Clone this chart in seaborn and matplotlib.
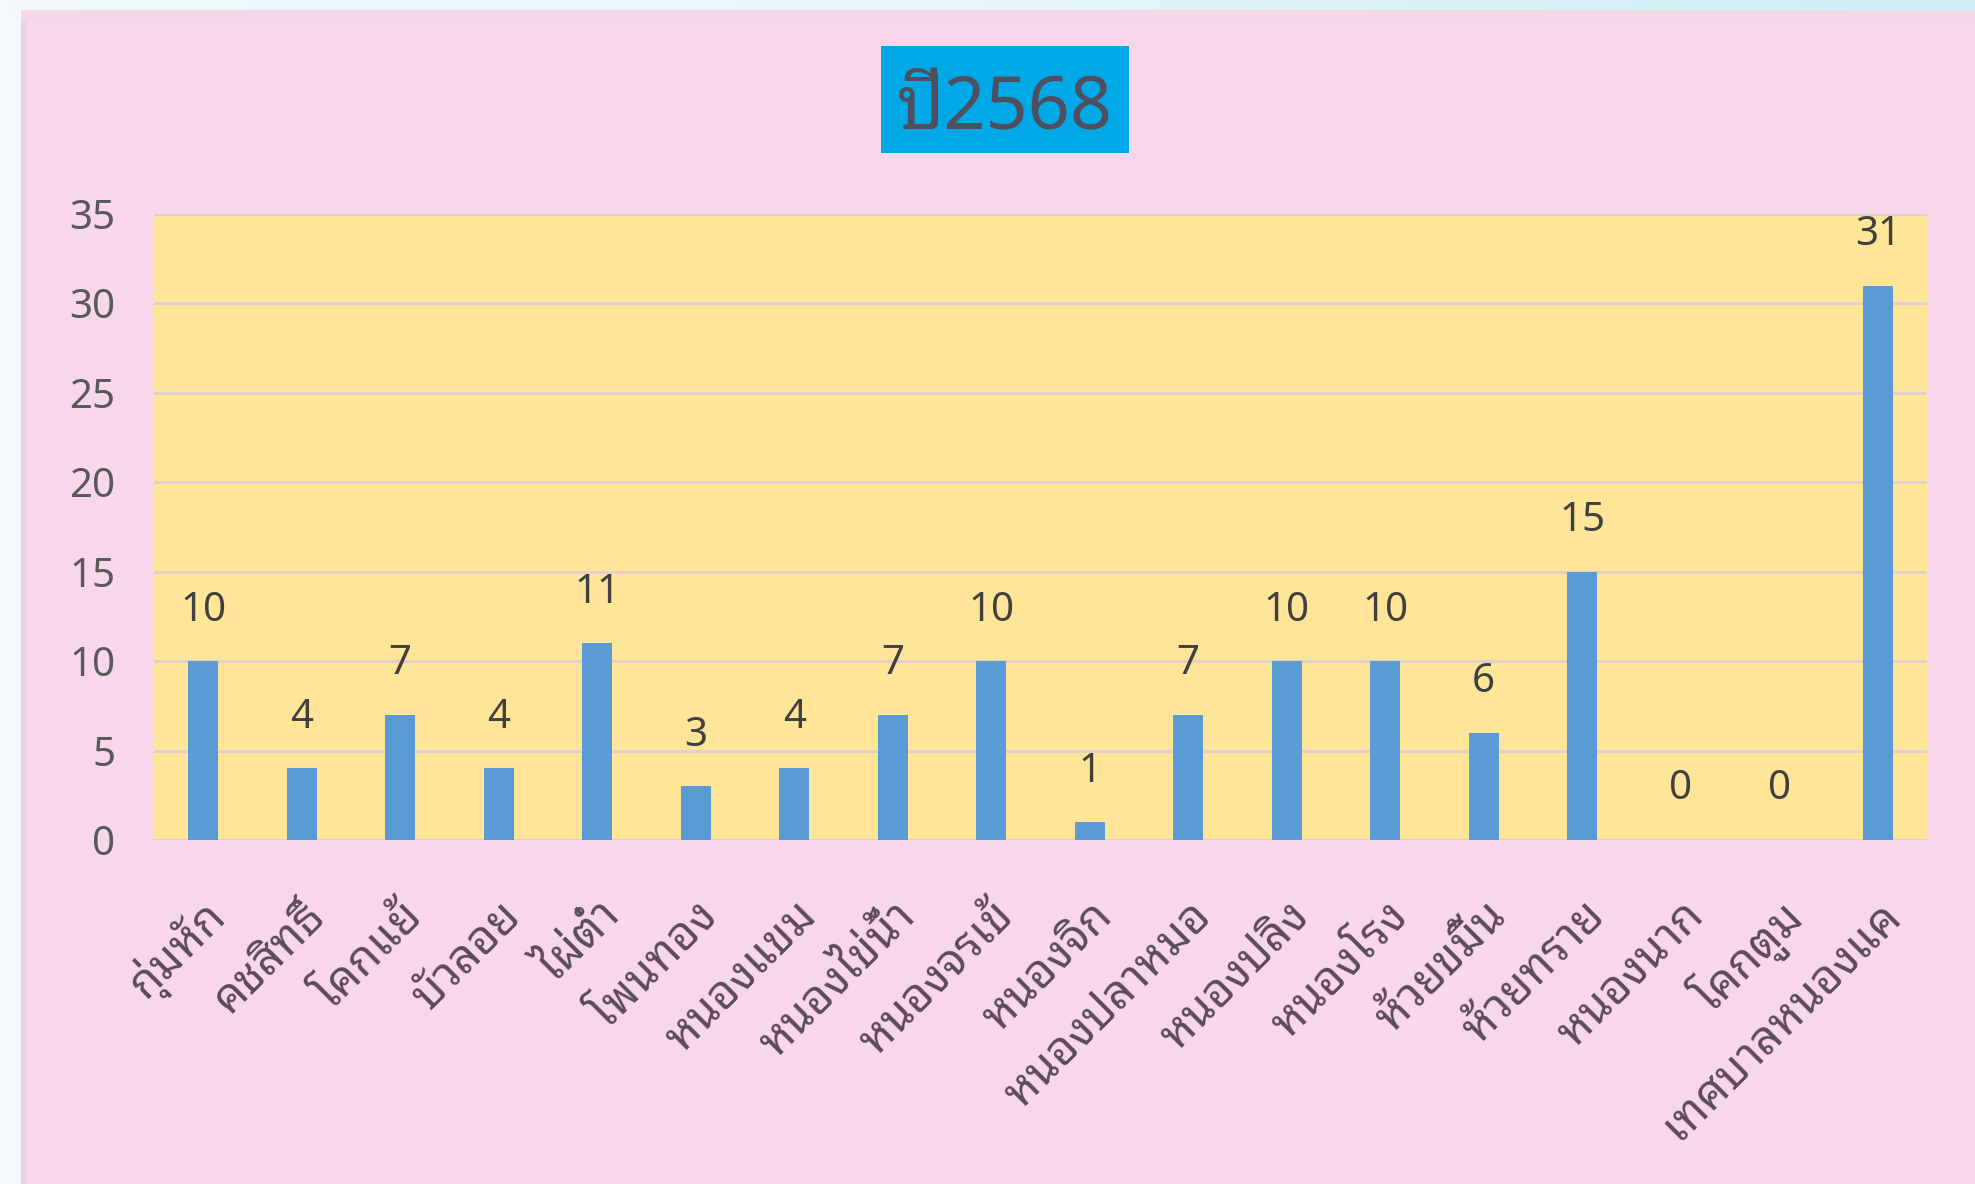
import numpy as np
import pandas as pd
import matplotlib
matplotlib.use("Agg")
import matplotlib.pyplot as plt
import seaborn as sns
from matplotlib.patches import Rectangle
from matplotlib.colors import LinearSegmentedColormap
from matplotlib.transforms import ScaledTranslation

# ---- data ----
categories = ["กุ่มหัก", "คชสิทธิ์", "โคกแย้", "บัวลอย", "ไผ่ต่ำ", "โพนทอง",
              "หนองแขม", "หนองไข่น้ำ", "หนองจรเข้", "หนองจิก", "หนองปลาหมอ",
              "หนองปลิง", "หนองโรง", "ห้วยขมิ้น", "ห้วยทราย", "หนองนาก",
              "โคกตูม", "เทศบาลหนองแค"]
values = [10, 4, 7, 4, 11, 3, 4, 7, 10, 1, 7, 10, 10, 6, 15, 0, 0, 31]
y_ticks = [0, 5, 10, 15, 20, 25, 30, 35]
title = "ปี2568"

W, H = 1975, 1184

sns.set_theme(style="white")
plt.rcParams['font.family'] = ['Noto Sans Thai Looped', 'DejaVu Sans']

fig = plt.figure(figsize=(W / 100, H / 100), dpi=100)
fig.patch.set_facecolor('#F3F9FD')

# top gradient strip
gax = fig.add_axes([0, 1 - 11 / H, 1, 11 / H])
grad = np.linspace(0, 1, 256)[None, :]
cmap = LinearSegmentedColormap.from_list('g', ['#F3F9FD', '#E6F5FB', '#CFEEF8'])
gax.imshow(grad, aspect='auto', cmap=cmap, extent=[0, 1, 0, 1])
gax.set_axis_off()

# pink panel
fig.add_artist(Rectangle((21 / W, 0), 1, 1 - 10 / H, transform=fig.transFigure,
                         facecolor='#F8D6EC', edgecolor='none', zorder=0))
fig.add_artist(Rectangle((21 / W, 0), 6 / W, 1 - 10 / H, transform=fig.transFigure,
                         facecolor='#E9D2E2', edgecolor='none', zorder=0.5))
fig.add_artist(Rectangle((21 / W, 1 - 22 / H), 1, 12 / H, transform=fig.transFigure,
                         facecolor='#F3D8E6', edgecolor='none', zorder=0.5))

# title box
fig.add_artist(Rectangle((881 / W, 1 - 153 / H), (1129 - 881) / W, (153 - 46) / H,
                         transform=fig.transFigure, facecolor='#00A8E6',
                         edgecolor='none', zorder=2))
fig.text(1005 / W, 1 - 110 / H, title, ha='center', va='center', fontsize=53,
         color='#4F4F5F', zorder=3)

# chart
ax = fig.add_axes([154 / W, 1 - 840 / H, (1927 - 154) / W, (840 - 214) / H])
df = pd.DataFrame({'area': categories, 'n': values})
sns.barplot(data=df, x='area', y='n', color='#5B9BD5', width=0.3,
            saturation=1, ax=ax, zorder=3, linewidth=0)
ax.set_facecolor('#FFE597')
ax.set_ylim(0, 35)
ax.set_yticks(y_ticks)
ax.set_xlim(-0.5, len(categories) - 0.5)
ax.yaxis.grid(True, color='#E2D0CA', linewidth=2.2)
ax.xaxis.grid(False)
ax.set_axisbelow(True)
for s in ax.spines.values():
    s.set_visible(False)
ax.set_xlabel('')
ax.set_ylabel('')
ax.tick_params(axis='y', length=0, pad=28, labelsize=29, labelcolor='#595959')
ax.tick_params(axis='x', length=0, pad=50, labelsize=33, labelcolor='#5A4A5A')
shift = ScaledTranslation(16 / 100, 0, fig.dpi_scale_trans)
for lab in ax.get_xticklabels():
    lab.set_rotation(45)
    lab.set_ha('right')
    lab.set_va('center')
    lab.set_rotation_mode('anchor')
    lab.set_transform(lab.get_transform() + shift)

ax.bar_label(ax.containers[0], padding=22, fontsize=29, color='#404040')

fig.savefig('out.png', dpi=100, facecolor=fig.get_facecolor())
